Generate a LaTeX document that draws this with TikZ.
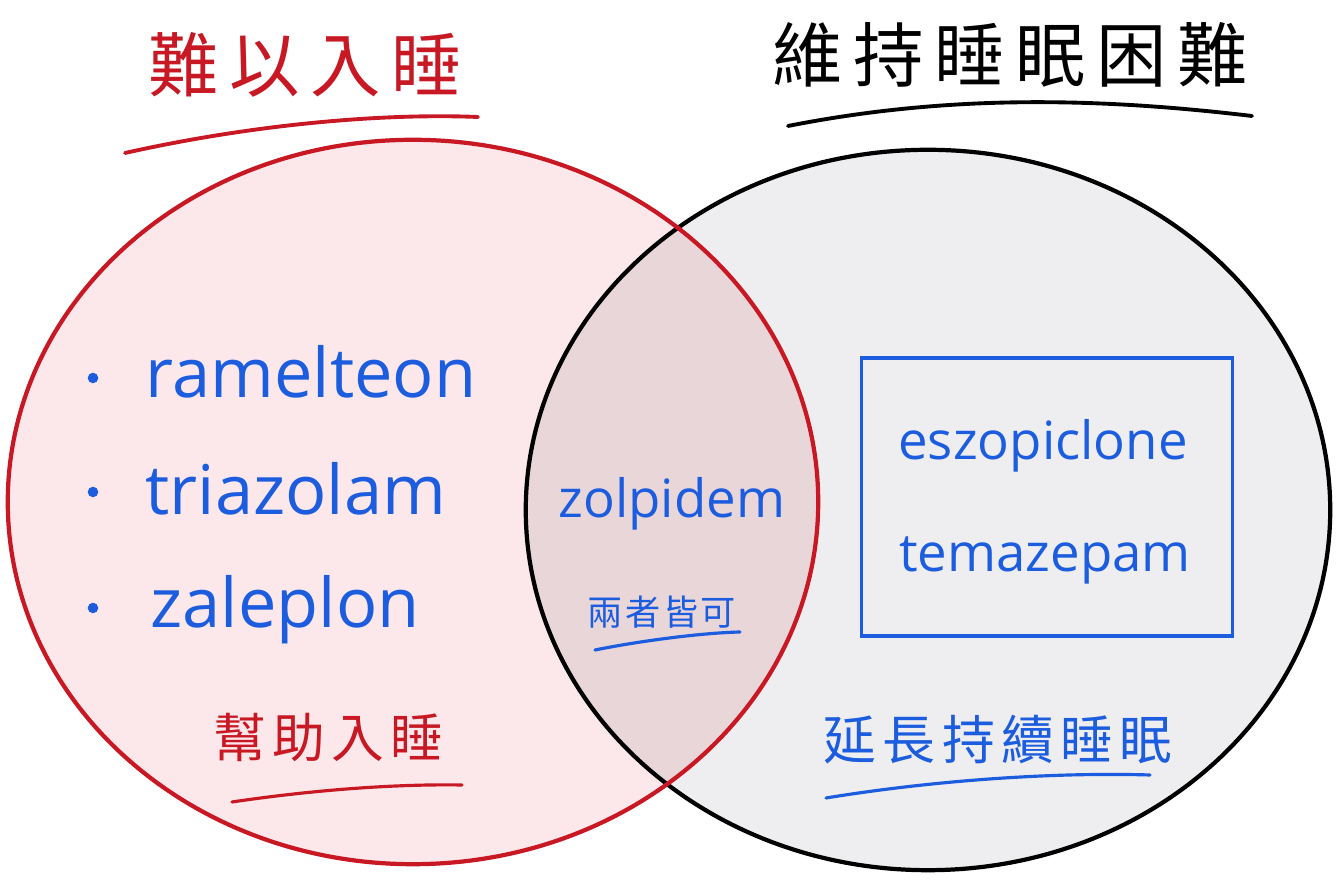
\documentclass[tikz,border=0pt]{standalone}
\usepackage{fontspec}
\setmainfont{Open Sans}
\newfontfamily\cjk{Noto Sans CJK TC}
\usetikzlibrary{positioning}
\definecolor{penred}{RGB}{200,24,36}
\definecolor{penblue}{RGB}{28,92,222}
\definecolor{fillpink}{RGB}{252,232,234}
\definecolor{fillgray}{RGB}{238,238,240}
\definecolor{fillmix}{RGB}{233,214,217}

\tikzset{
  drug/.style={text=penblue, font=\fontsize{19.5}{24}\selectfont, inner sep=0pt},
  smalldrug/.style={drug, font=\fontsize{15}{18}\selectfont},
  bigtitle/.style={font=\cjk\fontsize{20}{24}\selectfont\addfontfeature{LetterSpace=15}, inner sep=0pt},
  sublabel/.style={font=\cjk\fontsize{15}{18}\selectfont\addfontfeature{LetterSpace=12}, inner sep=0pt},
  penline/.style={line width=1.1pt, line cap=round},
}

\begin{document}
\begin{tikzpicture}[x=0.01cm, y=-0.01cm]
    \useasboundingbox (0,0) rectangle (1338,883);
    \fill[white] (0,0) rectangle (1338,883);

    % 两个圆
    \fill[fillpink] (413,502) ellipse [x radius=4.05cm, y radius=3.62cm];
    \fill[fillgray] (928,510) ellipse [x radius=4.02cm, y radius=3.60cm];
    \begin{scope}
        \clip (413,502) ellipse [x radius=4.05cm, y radius=3.62cm];
        \fill[fillmix] (928,510) ellipse [x radius=4.02cm, y radius=3.60cm];
    \end{scope}
    \draw[black, line width=1.2pt] (928,510) ellipse [x radius=4.02cm, y radius=3.60cm];
    \draw[penred, line width=1.2pt] (413,502) ellipse [x radius=4.05cm, y radius=3.62cm];

    % 标题
    \node[bigtitle, text=penred] (ttlhard) at (305,65) {難以入睡};
    \draw[penline, penred] (125,153) .. controls (250,125) and (380,113) .. (478,117);
    \node[bigtitle, text=black] (ttlkeep) at (1010,55) {維持睡眠困難};
    \draw[penline, black] (788,126) .. controls (950,94) and (1100,98) .. (1252,116);

    % 左边药物
    \node[drug, anchor=base west] (rame) at (145,398) {ramelteon};
    \node[drug, anchor=base west] (tria) at (145,515) {triazolam};
    \node[drug, anchor=base west] (zale) at (150,628) {zaleplon};
    \foreach \y/\nm in {378/a, 492/b, 608/c}
        \node[circle, fill=penblue, inner sep=0pt, minimum size=3pt] (dot\nm) at (93,\y) {};
    \node[sublabel, text=penred] (lblhelp) at (328,738) {幫助入睡};
    \draw[penline, penred, line width=0.9pt] (232,802) .. controls (320,789) and (400,784) .. (462,785);

    % 中间
    \node[smalldrug, anchor=base] (zolp) at (672,518) {zolpidem};
    \node[font=\cjk\fontsize{10}{12}\selectfont\addfontfeature{LetterSpace=7}, text=penblue, inner sep=0pt] (lblboth) at (662,612) {兩者皆可};
    \draw[penline, penblue, line width=0.9pt] (595,650) .. controls (640,641) and (700,633) .. (740,632);

    % 右边药物
    \node[draw=penblue, line width=1pt, minimum width=3.71cm, minimum height=2.78cm] (box) at (1047,497) {};
    \node[smalldrug, anchor=base] (eszo) at (1043,460) {eszopiclone};
    \node[smalldrug, anchor=base] (tema) at (1045,572) {temazepam};
    \node[sublabel, text=penblue] (lblextend) at (998,740) {延長持續睡眠};
    \draw[penline, penblue, line width=0.9pt] (826,798) .. controls (930,781) and (1050,772) .. (1150,775);
\end{tikzpicture}
\end{document}
